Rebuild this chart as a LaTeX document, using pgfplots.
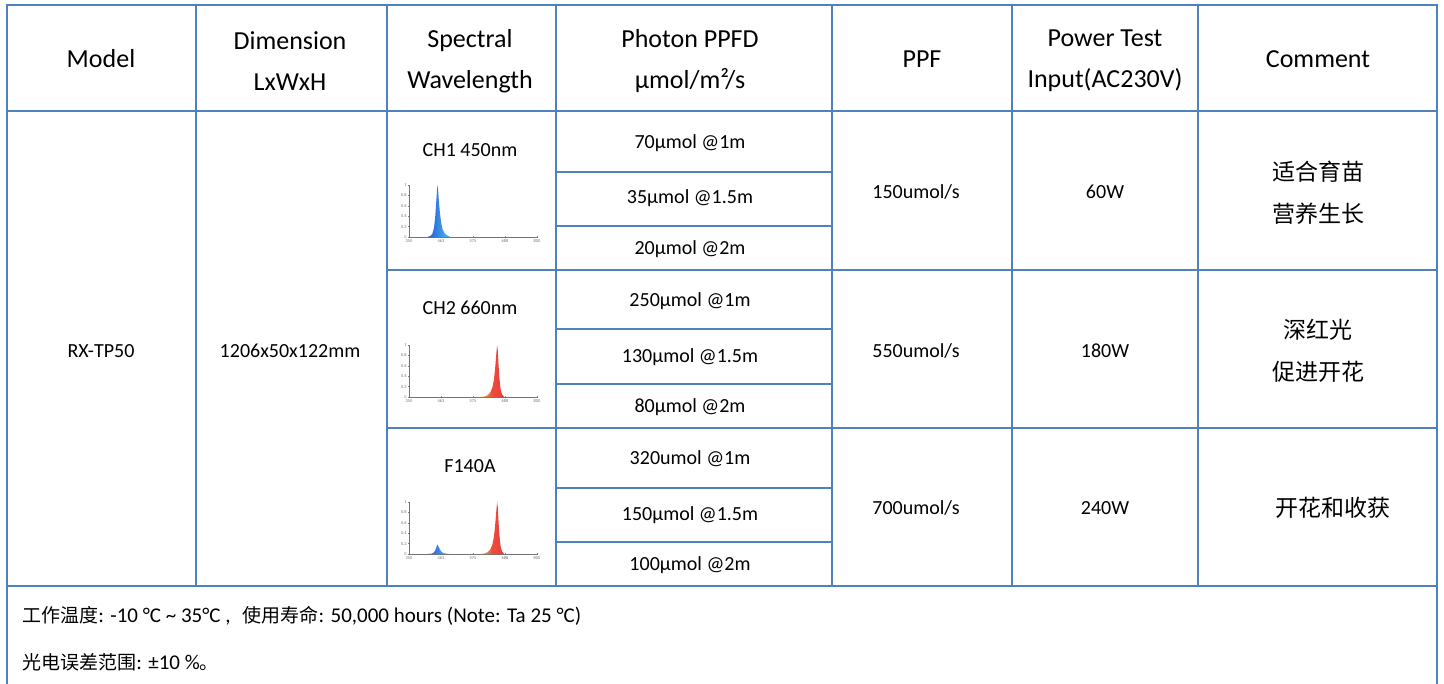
\documentclass[border=0pt]{standalone}
\usepackage{pgfplots}
\pgfplotsset{compat=1.18}
\usepackage{fontspec}
\setmainfont{Carlito}
\newfontfamily\cjk{Noto Sans CJK SC}

\definecolor{grid}{HTML}{4F81BD}
\definecolor{bluedark}{HTML}{2F4FD8}
\definecolor{bluelight}{HTML}{3CC8F2}
\definecolor{redpk}{HTML}{EA3B3B}
\definecolor{orangepk}{HTML}{F4B040}

% one small spectrum axis
\pgfplotsset{spectrum/.style={
    scale only axis,
    width=64pt, height=26pt,
    anchor=south west,
    xmin=350, xmax=800, ymin=0, ymax=1,
    xtick={350,462.5,575,687.5,800},
    xticklabels={350,463,575,688,800},
    ytick={0,0.2,0.4,0.6,0.8,1},
    axis lines=left,
    axis line style={-, black!55, line width=0.3pt},
    major tick length=1pt,
    tick style={black!50, line width=0.2pt},
    /pgf/number format/assume math mode=true,
    tick label style={font=\fontsize{2.2}{2.5}\selectfont, black!55, inner sep=0.5pt},
    clip=false,
}}

\begin{document}
\begin{tikzpicture}
\begin{scope}[x=0.5pt, y=-0.5pt]
  \useasboundingbox (0,0) rectangle (1444,684);
  % table rules
  \begin{scope}[draw=grid, line width=1.25pt]
    \draw (7,684) -- (7,5) -- (1437,5) -- (1437,684);
    \draw (7,111) -- (1437,111);
    \foreach \r in {270,428} \draw (387,\r) -- (1437,\r);
    \draw (7,586) -- (1437,586);
    \foreach \c in {196,387,556,832,1012,1198} \draw (\c,5) -- (\c,586);
    \foreach \r in {172,226,329,384,488,542} \draw (556,\r) -- (832,\r);
  \end{scope}

  % header
  \begin{scope}[every node/.style={align=center, font=\fontsize{13}{20.5}\selectfont}]
    \node at (101,59) {Model};
    \node at (290,61) {Dimension\\LxWxH};
    \node at (470,61) {Spectral\\Wavelength};
    \node at (690,61) {Photon PPFD\\µmol/m²/s};
    \node at (922,59) {PPF};
    \node at (1105,61) {Power Test\\Input(AC230V)};
    \node at (1318,59) {Comment};
  \end{scope}

  % body
  \begin{scope}[every node/.style={font=\fontsize{10}{12}\selectfont}]
    \node at (101,351) {RX-TP50};
    \node at (290,351) {1206x50x122mm};
    \node at (470,150) {CH1 450nm};
    \node at (470,308) {CH2 660nm};
    \node at (470,466) {F140A};
    \node at (690,143) {70µmol @1m};
    \node at (690,198) {35µmol @1.5m};
    \node at (690,249) {20µmol @2m};
    \node at (690,301) {250µmol @1m};
    \node at (690,357) {130µmol @1.5m};
    \node at (690,407) {80µmol @2m};
    \node at (690,459) {320umol @1m};
    \node at (690,515) {150µmol @1.5m};
    \node at (690,565) {100µmol @2m};
    \node at (916,192) {150umol/s};
    \node at (916,351) {550umol/s};
    \node at (916,508) {700umol/s};
    \node at (1105,192) {60W};
    \node at (1105,351) {180W};
    \node at (1105,508) {240W};
  \end{scope}
  \begin{scope}[every node/.style={align=center, font=\cjk\fontsize{11.5}{21}\selectfont}]
    \node at (1318,193) {适合育苗\\营养生长};
    \node at (1318,351) {深红光\\促进开花};
    \node at (1333,508) {开花和收获};
  \end{scope}

  % footer
  \begin{scope}[every node/.style={anchor=west, font=\fontsize{10.5}{12}\selectfont, inner sep=0pt}]
    \node at (22,616)
      {{\cjk\fontsize{9.5}{10}\selectfont 工作温度}: -10 °C \textasciitilde{} 35°C ,\hspace{6pt}{\cjk\fontsize{9.5}{10}\selectfont 使用寿命}: 50,000 hours (Note: Ta 25 °C)};
    \node at (22,662)
      {{\cjk\fontsize{9.5}{10}\selectfont 光电误差范围}: ±10 \%{\cjk\fontsize{9.5}{10}\selectfont 。}};
  \end{scope}
\end{scope}

% CH1 450nm
\begin{axis}[spectrum, at={(204.5pt,-118.5pt)}]
  \addplot[draw=none, left color=bluedark, right color=bluelight] coordinates {
    (415,0) (425,0.02) (432,0.06) (438,0.18) (442,0.38) (446,0.7) (449,0.95)
    (450,1) (452,0.92) (455,0.7) (459,0.45) (463,0.28) (468,0.15) (475,0.07)
    (485,0.03) (495,0)
  } \closedcycle;
\end{axis}

% CH2 660nm
\begin{axis}[spectrum, at={(204.5pt,-198.5pt)}]
  \addplot[draw=none, left color=orangepk, right color=redpk, middle color=redpk!85!orangepk] coordinates {
    (600,0) (615,0.01) (625,0.03) (635,0.08) (643,0.18) (648,0.32) (652,0.5)
    (655,0.7) (658,0.9) (660,1) (662,0.9) (665,0.6) (668,0.35) (672,0.15)
    (677,0.05) (685,0)
  } \closedcycle;
\end{axis}

% F140A
\begin{axis}[spectrum, at={(204.5pt,-277pt)}]
  \addplot[draw=none, left color=bluedark, right color=bluelight] coordinates {
    (415,0) (425,0.004) (432,0.011) (438,0.032) (442,0.068) (446,0.126) (449,0.171)
    (450,0.18) (452,0.166) (455,0.126) (459,0.081) (463,0.05) (468,0.027) (475,0.013)
    (485,0.005) (495,0)
  } \closedcycle;
  \addplot[draw=none, left color=orangepk, right color=redpk, middle color=redpk!85!orangepk] coordinates {
    (600,0) (615,0.01) (625,0.03) (635,0.08) (643,0.18) (648,0.32) (652,0.5)
    (655,0.7) (658,0.9) (660,1) (662,0.9) (665,0.6) (668,0.35) (672,0.15)
    (677,0.05) (685,0)
  } \closedcycle;
\end{axis}
\end{tikzpicture}
\end{document}
